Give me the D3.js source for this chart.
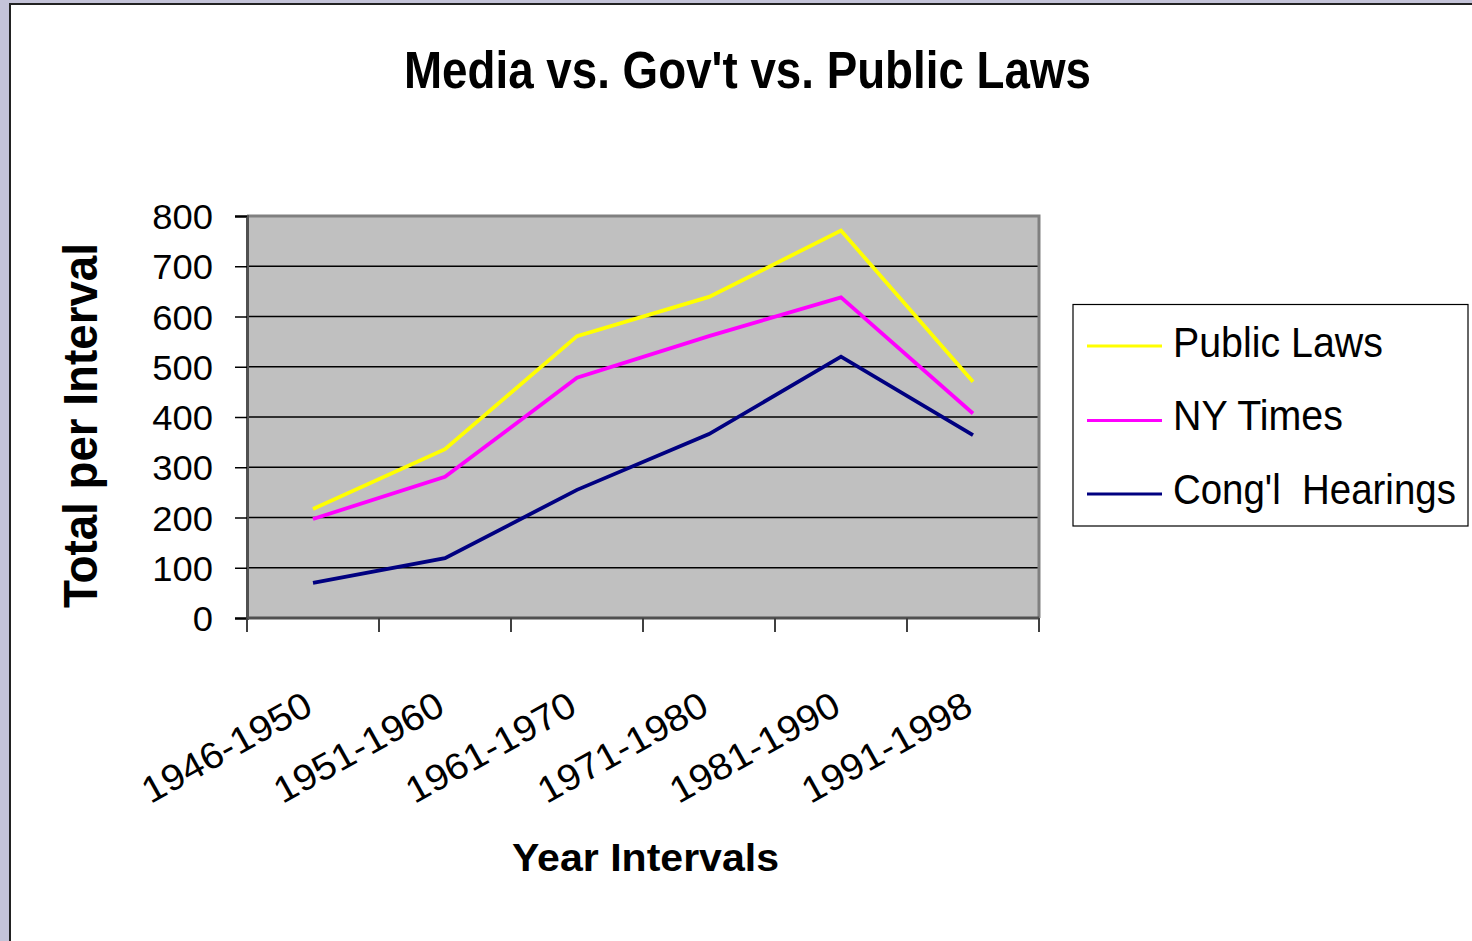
<!DOCTYPE html>
<html>
<head>
<meta charset="utf-8">
<script src="https://cdn.jsdelivr.net/npm/d3@7"></script>
<style>
  html, body { margin: 0; padding: 0; background: #c4c3d8; }
  svg { display: block; }
  text { font-family: "Liberation Sans", Arial, sans-serif; fill: #000; }
</style>
</head>
<body>
<svg id="chart" width="1472" height="941"></svg>
<script>
// Interval categories along the x axis
const intervals = ["1946-1950", "1951-1960", "1961-1970", "1971-1980", "1981-1990", "1991-1998"];

// Totals per interval for each series
const publicLaws    = [217, 336, 561, 639, 771, 470];
const nyTimes       = [197, 281, 478, 561, 638, 407];
const conglHearings = [70, 119, 255, 366, 520, 364];

const seriesNames  = ["Public Laws", "NY Times", "Cong'l  Hearings"];
const seriesColors = ["#ffff00", "#ff00ff", "#000080"];
const yTicks = [0, 100, 200, 300, 400, 500, 600, 700, 800];

const series = [publicLaws, nyTimes, conglHearings].map((values, i) => ({
  name: seriesNames[i], color: seriesColors[i], values
}));

const svg = d3.select("#chart");

// White page panel with a dark edge on the top and left
svg.append("rect").attr("x", 10).attr("y", 4).attr("width", 1472).attr("height", 941)
  .attr("fill", "#ffffff").attr("stroke", "#222").attr("stroke-width", 2);

const plot = { left: 247, right: 1039, top: 216, bottom: 618 };

const x = d3.scaleBand().domain(intervals).range([plot.left, plot.right]).padding(0);
const y = d3.scaleLinear().domain([0, 800]).range([plot.bottom, plot.top]);
const cx = d => x(d) + x.bandwidth() / 2;

// set a text node's rendered length
function fit(sel, len) {
  sel.attr("textLength", len).attr("lengthAdjust", "spacingAndGlyphs");
}
function stretch(sel, k) {
  sel.each(function () {
    const w = this.getComputedTextLength();
    d3.select(this).attr("textLength", w * k).attr("lengthAdjust", "spacingAndGlyphs");
  });
}

// Plot background
svg.append("rect")
  .attr("x", plot.left).attr("y", plot.top)
  .attr("width", plot.right - plot.left).attr("height", plot.bottom - plot.top)
  .attr("fill", "#c0c0c0");

// Horizontal gridlines
svg.append("g").selectAll("line").data(yTicks.filter(v => v > 0 && v < 800)).join("line")
  .attr("x1", plot.left).attr("x2", plot.right)
  .attr("y1", d => y(d)).attr("y2", d => y(d))
  .attr("stroke", "#000").attr("stroke-width", 1.5);

// Plot frame (top and right)
svg.append("path")
  .attr("d", `M${plot.left},${y(800)}H${plot.right}V${plot.bottom}`)
  .attr("fill", "none").attr("stroke", "#808080").attr("stroke-width", 3);

// Y axis
const yAxis = svg.append("g").attr("transform", `translate(${plot.left},0)`)
  .call(d3.axisLeft(y).tickValues(yTicks).tickSize(12).tickPadding(22));
yAxis.select(".domain").attr("stroke", "#505050").attr("stroke-width", 3);
yAxis.selectAll(".tick line").attr("stroke", "#000").attr("stroke-width", 1.5);
yAxis.selectAll(".tick text")
  .attr("font-family", "Liberation Sans, Arial, sans-serif")
  .attr("font-size", 35).attr("fill", "#000").attr("dy", "0.36em")
  .call(stretch, 1.04);

// X axis: ticks sit at the category boundaries
const xAxisG = svg.append("g");
xAxisG.append("line")
  .attr("x1", plot.left).attr("x2", plot.right)
  .attr("y1", plot.bottom).attr("y2", plot.bottom)
  .attr("stroke", "#505050").attr("stroke-width", 3);
const edges = intervals.map(d => x(d)).concat([x(intervals[intervals.length - 1]) + x.bandwidth()]);
xAxisG.selectAll("line.tick").data(edges).join("line").attr("class", "tick")
  .attr("x1", d => d).attr("x2", d => d)
  .attr("y1", plot.bottom).attr("y2", plot.bottom + 14)
  .attr("stroke", "#404040").attr("stroke-width", 2);
xAxisG.selectAll("text").data(intervals).join("text")
  .attr("transform", d => `translate(${cx(d) + 2},713) rotate(-29)`)
  .attr("text-anchor", "end")
  .attr("font-size", 37)
  .text(d => d)
  .call(fit, 188);

// Series lines
const line = d3.line().x((v, i) => cx(intervals[i])).y(v => y(v));
svg.append("g").selectAll("path").data(series).join("path")
  .attr("d", s => line(s.values))
  .attr("fill", "none")
  .attr("stroke", s => s.color)
  .attr("stroke-width", 3.8)
  .attr("stroke-linejoin", "miter");

// Title
svg.append("text")
  .attr("x", 747.5).attr("y", 87.5)
  .attr("text-anchor", "middle")
  .attr("font-weight", "bold").attr("font-size", 51)
  .text("Media vs. Gov't vs. Public Laws")
  .call(fit, 687);

// Axis titles
svg.append("text")
  .attr("transform", "translate(97,425.5) rotate(-90)")
  .attr("text-anchor", "middle")
  .attr("font-weight", "bold").attr("font-size", 48)
  .text("Total per Interval")
  .call(fit, 365);

svg.append("text")
  .attr("x", 645.5).attr("y", 871)
  .attr("text-anchor", "middle")
  .attr("font-weight", "bold").attr("font-size", 38)
  .text("Year Intervals")
  .call(fit, 267);

// Legend
const legend = svg.append("g");
legend.append("rect")
  .attr("x", 1073).attr("y", 304.5).attr("width", 395).attr("height", 221.5)
  .attr("fill", "#fff").attr("stroke", "#000").attr("stroke-width", 1.2);
const legendY = [346, 420.5, 494];
const legendBase = [356.5, 430, 503.5];
const legendLen = [210, 170, 283];
const items = legend.selectAll("g.item").data(series).join("g").attr("class", "item");
items.append("line")
  .attr("x1", 1087).attr("x2", 1162)
  .attr("y1", (d, i) => legendY[i]).attr("y2", (d, i) => legendY[i])
  .attr("stroke", d => d.color).attr("stroke-width", 3);
// labels are narrowed with a horizontal scale so their boxes match what is drawn
items.append("text")
  .attr("font-size", 43)
  .attr("xml:space", "preserve")
  .style("white-space", "pre")
  .text(d => d.name)
  .each(function (d, i) {
    const w = this.getComputedTextLength();
    d3.select(this).attr("transform",
      `translate(1173,${legendBase[i]}) scale(${legendLen[i] / w},1)`);
  });
</script>
</body>
</html>
